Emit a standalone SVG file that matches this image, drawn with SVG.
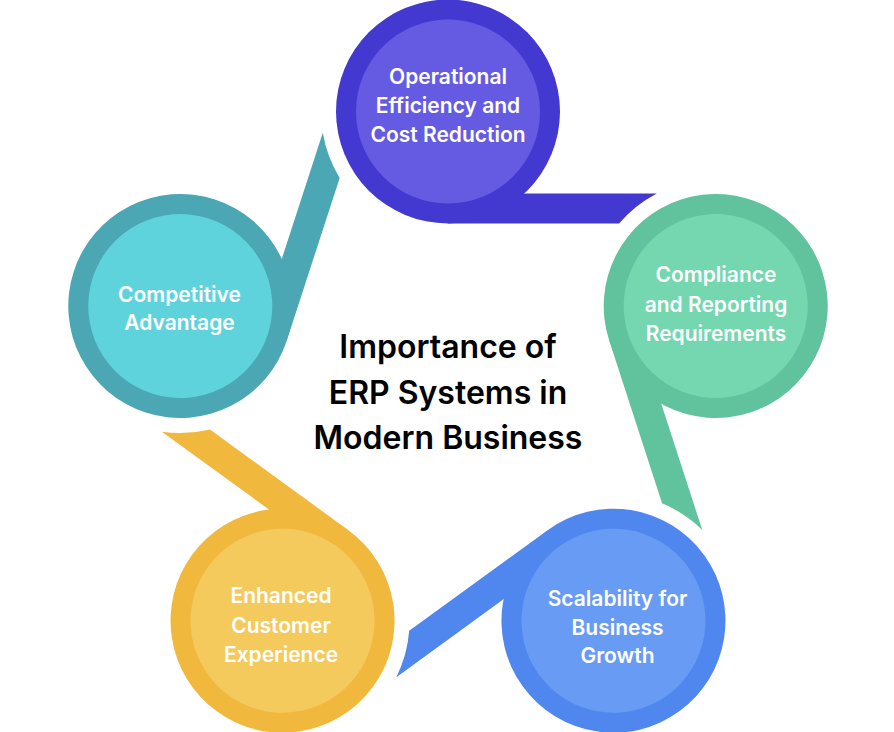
<svg xmlns="http://www.w3.org/2000/svg" xmlns:xlink="http://www.w3.org/1999/xlink" width="894" height="732" viewBox="0 0 894 732">
  <style>
    .lbl { font-family: Inter, "Open Sans", "Liberation Sans", sans-serif; font-weight: 600; font-size: 21px; fill: #ffffff; text-anchor: middle; }
    .title { font-family: Inter, "Open Sans", "Liberation Sans", sans-serif; font-weight: 600; font-size: 32px; fill: #000000; text-anchor: middle; }
  </style>
  <defs>
    <path id="tail" d="M 448 223.5 L 619.1 223.5 A 127 127 0 0 1 656.8 193.5 L 448 193.5 Z"/>
    <circle id="ring" cx="448" cy="111.5" r="112"/>
    <circle id="core" cx="448" cy="111.5" r="92"/>
  </defs>
  <rect width="894" height="732" fill="#ffffff"/>
  <g id="connectors">
    <use xlink:href="#tail" fill="#4339d1"/>
    <use xlink:href="#tail" fill="#61c39e" transform="rotate(72 448 393)"/>
    <use xlink:href="#tail" fill="#4f87ee" transform="rotate(144 448 393)"/>
    <use xlink:href="#tail" fill="#f1b83e" transform="rotate(216 448 393)"/>
    <use xlink:href="#tail" fill="#4aa7b3" transform="rotate(288 448 393)"/>
  </g>
  <g id="node-operational">
    <use xlink:href="#ring" fill="#4339d1"/>
    <use xlink:href="#core" fill="#655be3"/>
    <text class="lbl" x="448" y="83.5">Operational</text>
    <text class="lbl" x="448" y="112.5">Efficiency and</text>
    <text class="lbl" x="448" y="141.5">Cost Reduction</text>
  </g>
  <g id="node-compliance">
    <g transform="rotate(72 448 393)">
      <use xlink:href="#ring" fill="#61c39e"/>
      <use xlink:href="#core" fill="#74d7b0"/>
    </g>
    <text class="lbl" x="716" y="282">Compliance</text>
    <text class="lbl" x="716" y="311.5">and Reporting</text>
    <text class="lbl" x="716" y="341">Requirements</text>
  </g>
  <g id="node-scalability">
    <g transform="rotate(144 448 393)">
      <use xlink:href="#ring" fill="#4f87ee"/>
      <use xlink:href="#core" fill="#689bf3"/>
    </g>
    <text class="lbl" x="617.5" y="606">Scalability for</text>
    <text class="lbl" x="617.5" y="634.5">Business</text>
    <text class="lbl" x="617.5" y="663">Growth</text>
  </g>
  <g id="node-customer">
    <g transform="rotate(216 448 393)">
      <use xlink:href="#ring" fill="#f1b83e"/>
      <use xlink:href="#core" fill="#f4ca5d"/>
    </g>
    <text class="lbl" x="281" y="603">Enhanced</text>
    <text class="lbl" x="281" y="633">Customer</text>
    <text class="lbl" x="281" y="662">Experience</text>
  </g>
  <g id="node-competitive">
    <g transform="rotate(288 448 393)">
      <use xlink:href="#ring" fill="#4aa7b3"/>
      <use xlink:href="#core" fill="#5fd3dc"/>
    </g>
    <text class="lbl" x="179.5" y="301.5">Competitive</text>
    <text class="lbl" x="179.5" y="330">Advantage</text>
  </g>
  <g id="title">
    <text class="title" x="448" y="358">Importance of</text>
    <text class="title" x="448" y="403.5">ERP Systems in</text>
    <text class="title" x="448" y="449">Modern Business</text>
  </g>
</svg>
